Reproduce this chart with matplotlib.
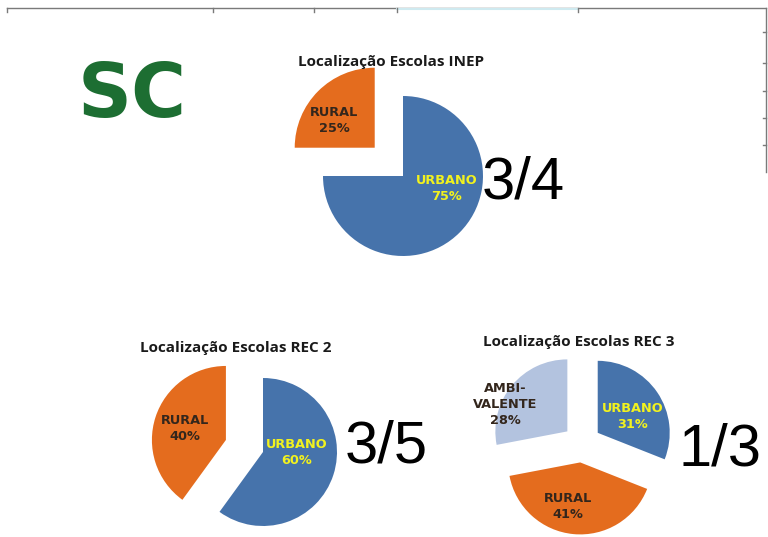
import matplotlib
matplotlib.use("Agg")
import matplotlib.pyplot as plt
from matplotlib import font_manager
from matplotlib.lines import Line2D

# dados das três pizzas
inep_labels = ["URBANO", "RURAL"]
inep_values = [75, 25]
rec2_labels = ["URBANO", "RURAL"]
rec2_values = [60, 40]
rec3_labels = ["URBANO", "RURAL", "AMBI-\nVALENTE"]
rec3_values = [31, 41, 28]
titles = ["Localização Escolas INEP", "Localização Escolas REC 2", "Localização Escolas REC 3"]
fractions = ["3/4", "3/5", "1/3"]

BLUE = "#4673ab"
ORANGE = "#e46c1e"
LIGHT = "#b3c3df"
YELLOW = "#f2f21e"
DARK = "#33261c"

# Liberation Sans Narrow para as frações, se houver
narrow = None
for f in font_manager.findSystemFonts():
    if "liberationsansnarrow-regular" in f.lower().replace(" ", ""):
        narrow = f
        break
if narrow:
    frac_prop = font_manager.FontProperties(fname=narrow, size=47)
else:
    frac_prop = font_manager.FontProperties(family="Liberation Sans", size=43)

W, H = 768, 537
fig = plt.figure(figsize=(W / 100, H / 100), dpi=100)
ax = fig.add_axes([0, 0, 1, 1])

lbl_font = dict(family="DejaVu Sans", fontweight="bold", fontsize=9.3, linespacing=1.3,
                ha="center", va="center")
title_font = dict(family=["Open Sans", "DejaVu Sans"], fontweight="bold", fontsize=11,
                  ha="center", va="center", color="#1a1a1a")


def draw_pie(values, labels, colors, txtcolors, center, radius, explode, label_pos):
    wedges, texts = ax.pie(values, labels=[f"{l}\n{v}%" for l, v in zip(labels, values)],
                           colors=colors, startangle=90, counterclock=False,
                           explode=explode, center=center, radius=radius, frame=True,
                           labeldistance=0.5, wedgeprops=dict(linewidth=0))
    for t, c, p in zip(texts, txtcolors, label_pos):
        t.set(**lbl_font)
        t.set_color(c)
        t.set_position(p)
    return wedges


# INEP (explode em pixels)
draw_pie(inep_values, inep_labels, [BLUE, ORANGE], [YELLOW, DARK],
         (403, 361), 80, [0, 40], [(447, 349), (334, 417)])
# REC 2
draw_pie(rec2_values, rec2_labels, [BLUE, ORANGE], [YELLOW, DARK],
         (263, 85), 74, [0, 39], [(297, 84), (185, 109)])
# REC 3
draw_pie(rec3_values, rec3_labels, [BLUE, ORANGE, LIGHT], [YELLOW, DARK, DARK],
         (582, 93.5), 72, [19, 19, 19], [(633, 120), (568, 30), (505, 132)])

for t, xy in zip(titles, [(391, 475), (236, 189), (579, 195)]):
    ax.text(*xy, t, **title_font)
for f, xy in zip(fractions, [(523, 354), (386, 90), (720, 87)]):
    ax.text(*xy, f, fontproperties=frac_prop, ha="center", va="center", color="black")

ax.text(132, 441, "SC", family="DejaVu Sans", fontweight="bold", fontsize=54,
        color="#1d6e32", ha="center", va="center")

# moldura cortada no topo / direita
ax.add_line(Line2D([7, 766], [529, 529], color="#7a7a7a", lw=1))
ax.add_line(Line2D([766, 766], [529, 365], color="#7a7a7a", lw=1))
ax.add_line(Line2D([397, 578], [528, 528], color="#cfeaf0", lw=1.5))
for x in [7, 213, 314, 397, 578]:
    ax.add_line(Line2D([x, x], [529, 525], color="#7a7a7a", lw=1))
for y in [32, 63, 91, 118, 145]:
    ax.add_line(Line2D([766, 763], [H - y, H - y], color="#7a7a7a", lw=1))

ax.set_xlim(0, W)
ax.set_ylim(0, H)
ax.set_aspect("auto")
ax.axis("off")

fig.savefig("out.png", dpi=100, facecolor="white")
